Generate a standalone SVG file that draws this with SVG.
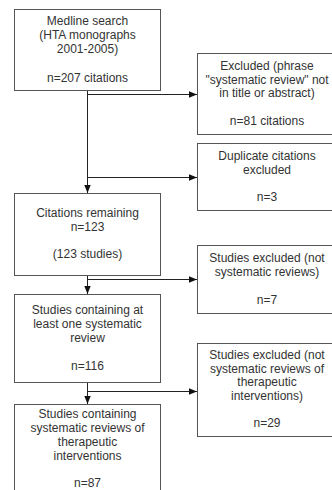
<svg xmlns="http://www.w3.org/2000/svg" width="332" height="490" viewBox="0 0 332 490">
<style>
.box{fill:#fff;stroke:#555;stroke-width:1}
.t{font-family:"Liberation Sans",Arial,sans-serif;font-size:12px;fill:#333;text-anchor:middle}
.c{stroke:#222;stroke-width:1;fill:none}
</style>
<defs>
<marker id="ah" viewBox="0 0 10 10" refX="10" refY="5" markerWidth="8" markerHeight="8" markerUnits="userSpaceOnUse" orient="auto">
<path d="M0,1 L10,5 L0,9 z" fill="#111"/>
</marker>
</defs>
<rect width="332" height="490" fill="#fff"/>
<g id="connectors">
<path class="c" d="M87.5,91 V193" marker-end="url(#ah)"/>
<path class="c" d="M87.5,94.5 H197" marker-end="url(#ah)"/>
<path class="c" d="M87.5,177.5 H197" marker-end="url(#ah)"/>
<path class="c" d="M87.5,276 V294" marker-end="url(#ah)"/>
<path class="c" d="M87.5,279.5 H197" marker-end="url(#ah)"/>
<path class="c" d="M87.5,383 V404" marker-end="url(#ah)"/>
<path class="c" d="M87.5,391.5 H197" marker-end="url(#ah)"/>
</g>
<g id="n1">
<rect class="box" x="14.5" y="9.5" width="146" height="81"/>
<text class="t" x="87.5" y="25">Medline search</text>
<text class="t" x="87.5" y="39">(HTA monographs</text>
<text class="t" x="87.5" y="53">2001-2005)</text>
<text class="t" x="87.5" y="82">n=207 citations</text>
</g>
<g id="n2">
<rect class="box" x="197.5" y="53.5" width="139" height="81"/>
<text class="t" x="267" y="70">Excluded (phrase</text>
<text class="t" x="267" y="84">"systematic review" not</text>
<text class="t" x="267" y="97">in title or abstract)</text>
<text class="t" x="267" y="125">n=81 citations</text>
</g>
<g id="n3">
<rect class="box" x="197.5" y="143.5" width="139" height="67"/>
<text class="t" x="267" y="160">Duplicate citations</text>
<text class="t" x="267" y="174">excluded</text>
<text class="t" x="267" y="201">n=3</text>
</g>
<g id="n4">
<rect class="box" x="14.5" y="193.5" width="146" height="82"/>
<text class="t" x="87.5" y="217">Citations remaining</text>
<text class="t" x="87.5" y="231">n=123</text>
<text class="t" x="87.5" y="258">(123 studies)</text>
</g>
<g id="n5">
<rect class="box" x="197.5" y="245.5" width="139" height="68"/>
<text class="t" x="267" y="262">Studies excluded (not</text>
<text class="t" x="267" y="276">systematic reviews)</text>
<text class="t" x="267" y="304">n=7</text>
</g>
<g id="n6">
<rect class="box" x="14.5" y="294.5" width="146" height="88"/>
<text class="t" x="87.5" y="314">Studies containing at</text>
<text class="t" x="87.5" y="328">least one systematic</text>
<text class="t" x="87.5" y="342">review</text>
<text class="t" x="87.5" y="370">n=116</text>
</g>
<g id="n7">
<rect class="box" x="197.5" y="343.5" width="139" height="93"/>
<text class="t" x="267" y="359">Studies excluded (not</text>
<text class="t" x="267" y="373">systematic reviews of</text>
<text class="t" x="267" y="386">therapeutic</text>
<text class="t" x="267" y="400">interventions)</text>
<text class="t" x="267" y="427">n=29</text>
</g>
<g id="n8">
<rect class="box" x="14.5" y="404.5" width="146" height="90"/>
<text class="t" x="87.5" y="418">Studies containing</text>
<text class="t" x="87.5" y="432">systematic reviews of</text>
<text class="t" x="87.5" y="446">therapeutic</text>
<text class="t" x="87.5" y="460">interventions</text>
<text class="t" x="87.5" y="487">n=87</text>
</g>
</svg>
